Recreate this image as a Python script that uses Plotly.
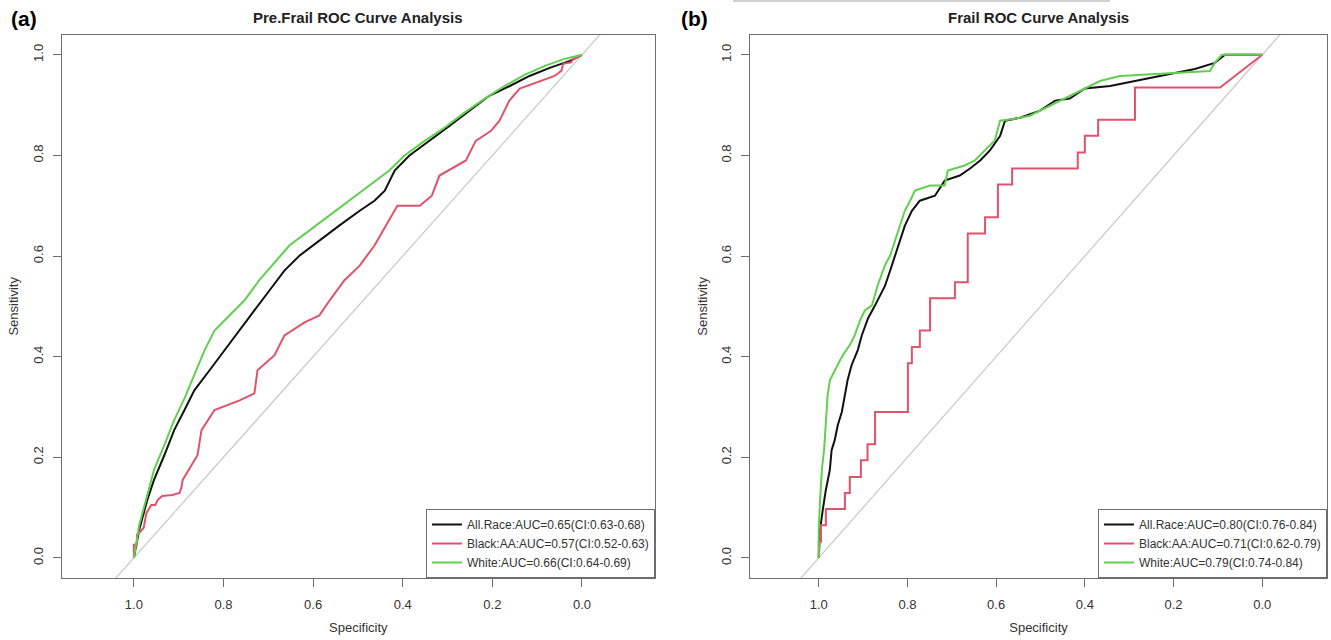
import plotly.graph_objects as go

# ---------------- data (specificity, sensitivity) ----------------
# Panel (a) Pre.Frail
a_all_spec = [1.0, 0.988, 0.97, 0.955, 0.932, 0.91, 0.887, 0.865, 0.831, 0.798, 0.764, 0.731, 0.697,
              0.664, 0.63, 0.586, 0.541, 0.496, 0.463, 0.44, 0.418, 0.385, 0.34, 0.295, 0.251, 0.206,
              0.161, 0.117, 0.072, 0.027, 0.0]
a_all_sens = [0.0, 0.056, 0.115, 0.155, 0.204, 0.254, 0.294, 0.333, 0.373, 0.413, 0.452, 0.492, 0.532,
              0.571, 0.601, 0.631, 0.661, 0.69, 0.71, 0.73, 0.77, 0.8, 0.829, 0.859, 0.889, 0.919,
              0.938, 0.958, 0.974, 0.988, 1.0]

a_blk_spec = [1.0, 1.0, 0.993, 0.993, 0.988, 0.978, 0.972, 0.961, 0.952, 0.947, 0.937, 0.914, 0.898,
              0.894, 0.891, 0.871, 0.858, 0.849, 0.82, 0.764, 0.731, 0.724, 0.686, 0.664, 0.619, 0.586,
              0.563, 0.53, 0.496, 0.463, 0.43, 0.412, 0.362, 0.335, 0.318, 0.259, 0.237, 0.203, 0.184,
              0.162, 0.139, 0.083, 0.061, 0.046, 0.042, 0.024, 0.021, 0.0]
a_blk_sens = [0.0, 0.026, 0.026, 0.046, 0.05, 0.06, 0.089, 0.105, 0.105, 0.115, 0.123, 0.125, 0.129,
              0.139, 0.155, 0.185, 0.204, 0.254, 0.294, 0.313, 0.327, 0.373, 0.403, 0.442, 0.468, 0.482,
              0.512, 0.552, 0.581, 0.621, 0.671, 0.7, 0.7, 0.72, 0.76, 0.79, 0.829, 0.849, 0.869,
              0.909, 0.933, 0.95, 0.958, 0.968, 0.982, 0.985, 0.99, 1.0]

a_wht_spec = [1.0, 0.988, 0.97, 0.955, 0.932, 0.91, 0.887, 0.865, 0.842, 0.82, 0.787, 0.753, 0.72,
              0.686, 0.653, 0.608, 0.563, 0.519, 0.474, 0.43, 0.396, 0.351, 0.307, 0.262, 0.217, 0.173,
              0.128, 0.083, 0.039, 0.005, 0.0]
a_wht_sens = [0.0, 0.065, 0.125, 0.175, 0.224, 0.274, 0.317, 0.363, 0.413, 0.452, 0.482, 0.512, 0.552,
              0.587, 0.621, 0.651, 0.681, 0.71, 0.74, 0.77, 0.8, 0.829, 0.855, 0.885, 0.913, 0.938,
              0.96, 0.978, 0.992, 1.0, 1.0]

# Panel (b) Frail
b_all_spec = [1.0, 0.997, 0.991, 0.984, 0.975, 0.971, 0.964, 0.957, 0.948, 0.941, 0.935, 0.926, 0.912,
              0.903, 0.889, 0.873, 0.862, 0.851, 0.839, 0.828, 0.817, 0.806, 0.79, 0.772, 0.738, 0.716,
              0.682, 0.659, 0.636, 0.614, 0.591, 0.58, 0.546, 0.501, 0.467, 0.434, 0.4, 0.343, 0.287,
              0.231, 0.152, 0.107, 0.084, 0.0]
b_all_sens = [0.0, 0.056, 0.095, 0.135, 0.175, 0.214, 0.234, 0.264, 0.29, 0.32, 0.353, 0.383, 0.413,
              0.442, 0.476, 0.502, 0.52, 0.54, 0.571, 0.6, 0.63, 0.66, 0.69, 0.71, 0.72, 0.75,
              0.76, 0.774, 0.79, 0.81, 0.839, 0.869, 0.875, 0.889, 0.909, 0.913, 0.933, 0.938, 0.948,
              0.958, 0.972, 0.984, 1.0, 1.0]

b_blk_spec = [1.0, 1.0, 0.995, 0.995, 0.984, 0.984, 0.941, 0.941, 0.93, 0.93, 0.905, 0.905, 0.89, 0.89,
              0.873, 0.873, 0.799, 0.799, 0.79, 0.79, 0.772, 0.772, 0.749, 0.749, 0.693, 0.693, 0.664,
              0.664, 0.625, 0.625, 0.596, 0.596, 0.564, 0.564, 0.416, 0.416, 0.4, 0.4, 0.37, 0.37,
              0.287, 0.287, 0.095, 0.0]
b_blk_sens = [0.0, 0.032, 0.032, 0.065, 0.065, 0.097, 0.097, 0.129, 0.129, 0.161, 0.161, 0.194, 0.194,
              0.226, 0.226, 0.29, 0.29, 0.387, 0.387, 0.419, 0.419, 0.452, 0.452, 0.516, 0.516, 0.548,
              0.548, 0.645, 0.645, 0.677, 0.677, 0.742, 0.742, 0.774, 0.774, 0.806, 0.806, 0.839,
              0.839, 0.871, 0.871, 0.935, 0.935, 1.0]

b_wht_spec = [1.0, 1.0, 0.997, 0.993, 0.988, 0.984, 0.98, 0.975, 0.964, 0.952, 0.941, 0.93, 0.919,
              0.907, 0.896, 0.88, 0.867, 0.851, 0.839, 0.828, 0.817, 0.806, 0.794, 0.783, 0.749, 0.716,
              0.709, 0.671, 0.648, 0.625, 0.603, 0.591, 0.558, 0.524, 0.479, 0.434, 0.4, 0.366, 0.321,
              0.118, 0.107, 0.091, 0.0]
b_wht_sens = [0.0, 0.056, 0.115, 0.175, 0.214, 0.274, 0.323, 0.353, 0.373, 0.393, 0.409, 0.423, 0.442,
              0.472, 0.492, 0.502, 0.542, 0.581, 0.601, 0.631, 0.661, 0.69, 0.71, 0.73, 0.74, 0.74,
              0.77, 0.78, 0.79, 0.81, 0.83, 0.869, 0.873, 0.879, 0.899, 0.919, 0.933, 0.948, 0.958,
              0.968, 0.984, 1.0, 1.0]

labels_a = ["All.Race:AUC=0.65(CI:0.63-0.68)", "Black:AA:AUC=0.57(CI:0.52-0.63)",
            "White:AUC=0.66(CI:0.64-0.69)"]
labels_b = ["All.Race:AUC=0.80(CI:0.76-0.84)", "Black:AA:AUC=0.71(CI:0.62-0.79)",
            "White:AUC=0.79(CI:0.74-0.84)"]
titles = ["Pre.Frail ROC Curve Analysis", "Frail ROC Curve Analysis"]
panel_tags = ["(a)", "(b)"]
x_ticks = [1.0, 0.8, 0.6, 0.4, 0.2, 0.0]
y_ticks = [0.0, 0.2, 0.4, 0.6, 0.8, 1.0]
diag_x = [1.3, -0.3]
diag_y = [-0.3, 1.3]

colors = ["#111111", "#DF536B", "#61D04F"]
FONT = "Liberation Sans, Arial, sans-serif"
W, H = 1331, 640

fig = go.Figure()

panels = [
    ("x", "y", "legend", [(a_all_spec, a_all_sens), (a_blk_spec, a_blk_sens), (a_wht_spec, a_wht_sens)], labels_a),
    ("x2", "y2", "legend2", [(b_all_spec, b_all_sens), (b_blk_spec, b_blk_sens), (b_wht_spec, b_wht_sens)], labels_b),
]
for xa, ya, lg, series, labs in panels:
    fig.add_trace(go.Scatter(x=diag_x, y=diag_y, mode="lines", xaxis=xa, yaxis=ya,
                             line=dict(color="#C8C8C8", width=1.2), showlegend=False, hoverinfo="skip"))
    for (sx, sy), lab, col in zip(series, labs, colors):
        fig.add_trace(go.Scatter(x=sx, y=sy, mode="lines", xaxis=xa, yaxis=ya, name=lab, legend=lg,
                                 line=dict(color=col, width=2)))

# pixel geometry
def px_x(p):
    return p / W

def px_y(p):
    return 1 - p / H

left_dom = [px_x(61.7), px_x(655)]
right_dom = [px_x(750), px_x(1327)]
y_dom = [px_y(578), px_y(34.7)]

axis_common = dict(showline=True, linecolor="#6E6E6E", linewidth=1, mirror=True, showgrid=False,
                   zeroline=False, ticks="outside", ticklen=8, tickcolor="#6E6E6E", tickwidth=1,
                   tickfont=dict(family=FONT, size=13, color="#333333"))

xa_common = dict(axis_common, tickvals=x_ticks, ticktext=[f"{v:.1f}" for v in x_ticks],
                 ticklabelstandoff=6,
                 title=dict(text="Specificity", font=dict(family=FONT, size=13, color="#333333"), standoff=12))
ya_common = dict(axis_common, tickvals=y_ticks, ticktext=[f"{v:.1f}" for v in y_ticks], tickangle=-90,
                 range=[-0.04, 1.04], ticklabelstandoff=5,
                 title=dict(text="Sensitivity", font=dict(family=FONT, size=13, color="#333333"), standoff=8))

legend_common = dict(bordercolor="#6E6E6E", borderwidth=1, bgcolor="white",
                     font=dict(family=FONT, size=12, color="#333333"), xanchor="right", yanchor="bottom",
                     y=y_dom[0], tracegroupgap=0, itemwidth=30)

fig.update_layout(
    width=W, height=H, margin=dict(l=0, r=0, t=0, b=0),
    paper_bgcolor="white", plot_bgcolor="white",
    xaxis=dict(xa_common, domain=left_dom, range=[1.161, -0.163], anchor="y"),
    yaxis=dict(ya_common, domain=y_dom, anchor="x"),
    xaxis2=dict(xa_common, domain=right_dom, range=[1.155, -0.146], anchor="y2"),
    yaxis2=dict(ya_common, domain=y_dom, anchor="x2"),
    legend=dict(legend_common, x=left_dom[1]),
    legend2=dict(legend_common, x=right_dom[1]),
    showlegend=True,
)

# titles and panel tags
for tag, tx, ttl, cx in [(panel_tags[0], 9, titles[0], (61.7 + 655) / 2),
                         (panel_tags[1], 679, titles[1], (750 + 1327) / 2)]:
    fig.add_annotation(text=f"<b>{tag}</b>", x=px_x(tx), y=px_y(19), xref="paper", yref="paper",
                       xanchor="left", yanchor="middle", showarrow=False,
                       font=dict(family=FONT, size=21, color="#000000"))
    fig.add_annotation(text=f"<b>{ttl}</b>", x=px_x(cx), y=px_y(18), xref="paper", yref="paper",
                       xanchor="center", yanchor="middle", showarrow=False,
                       font=dict(family=FONT, size=15, color="#222222"))

# faint line at very top of panel (b)
fig.add_shape(type="line", xref="paper", yref="paper", x0=px_x(733), x1=px_x(1110), y0=px_y(1), y1=px_y(1),
              line=dict(color="#D0D0D0", width=2))

fig.write_html("out.html", config={"displayModeBar": False},
               post_script="document.body.style.margin='0';document.body.style.overflow='hidden';")
